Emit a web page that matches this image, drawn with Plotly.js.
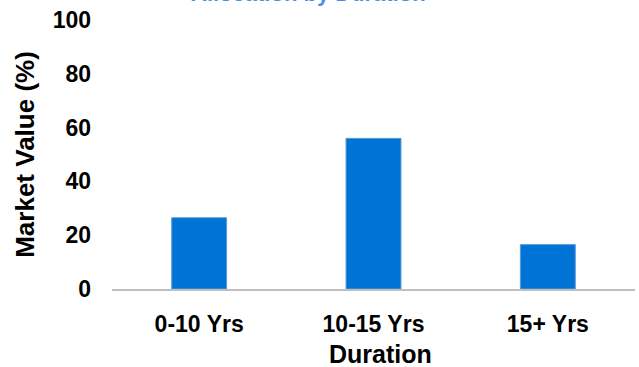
<!DOCTYPE html>
<html>
<head>
<meta charset="utf-8">
<script src="https://cdn.plot.ly/plotly-3.0.1.min.js"></script>
<style>html,body{margin:0;padding:0;background:#fff}#chart{width:639px;height:367px}</style>
</head>
<body>
<div id="chart"></div>
<script>
var categories = ["0-10 Yrs", "10-15 Yrs", "15+ Yrs"];
var marketValue = [26.5, 56, 16.5];
var yTicks = [0, 20, 40, 60, 80, 100];
var chartTitle = "Allocation by Duration";
var xTitle = "Duration";
var yTitle = "Market Value (%)";

var FONT = "Liberation Sans, Arial, sans-serif";

var trace = {
  type: "bar",
  x: categories,
  y: marketValue,
  marker: {color: "#0074d6", line: {color: "#5b9bd5", width: 1}},
  hoverinfo: "x+y"
};

var layout = {
  width: 639, height: 367,
  margin: {l: 112, r: 4, t: 20, b: 78},
  paper_bgcolor: "#ffffff", plot_bgcolor: "#ffffff",
  bargap: 0.685,
  showlegend: false,
  annotations: [{
    text: chartTitle, showarrow: false,
    xref: "paper", yref: "paper", x: 0.37, xanchor: "center",
    y: 1.0455, yanchor: "bottom",
    font: {family: FONT, size: 22, color: "#4a90e2", weight: "bold"}
  }, {
    text: xTitle, showarrow: false,
    xref: "paper", yref: "paper", x: 0.514, xanchor: "center",
    y: -0.183, yanchor: "top",
    font: {family: FONT, size: 25, color: "#000", weight: "bold"}
  }],
  xaxis: {
    type: "category", automargin: false,
    showgrid: false, zeroline: false,
    showline: true, linecolor: "#bfbfbf", linewidth: 2,
    ticks: "", tickfont: {family: FONT, size: 23, color: "#000", weight: "bold"},
    ticklabelstandoff: 13
  },
  yaxis: {
    range: [0, 100], tickvals: yTicks, automargin: false,
    showgrid: false, zeroline: false, showline: false,
    ticks: "", tickfont: {family: FONT, size: 23, color: "#000", weight: "bold"},
    ticklabelstandoff: 20,
    title: {text: yTitle, font: {family: FONT, size: 26, color: "#000", weight: "bold"}, standoff: 10}
  }
};
layout.annotations[0].x = (308 - layout.margin.l) / (639 - layout.margin.l - layout.margin.r);

Plotly.newPlot("chart", [trace], layout, {displayModeBar: false, staticPlot: true});
</script>
</body>
</html>
